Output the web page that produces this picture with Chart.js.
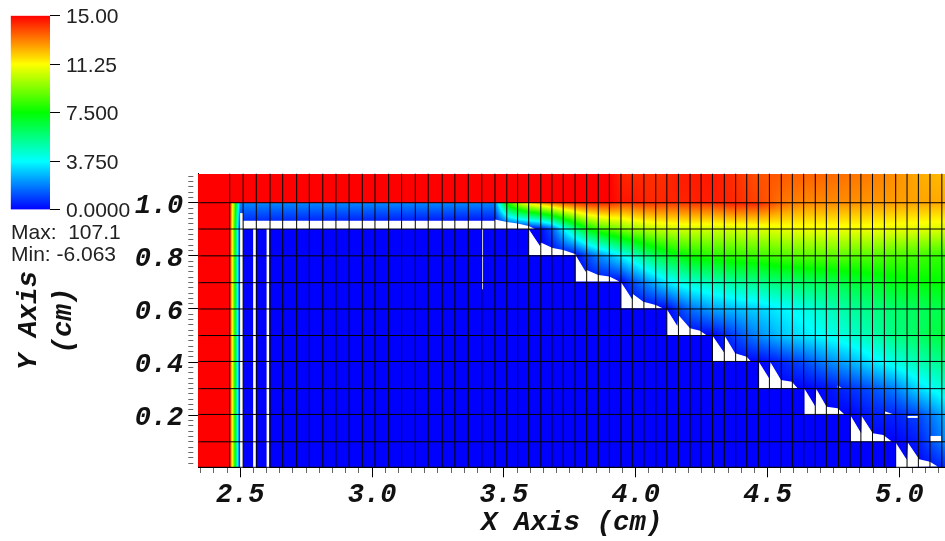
<!DOCTYPE html>
<html>
<head>
<meta charset="utf-8">
<title>Pseudocolor</title>
<script src="https://cdn.jsdelivr.net/npm/chart.js@4/dist/chart.umd.min.js"></script>
<style>
html, body { margin: 0; padding: 0; background: #fff; overflow: hidden; }
canvas { position: absolute; left: 0; top: 0; }
#legendChart { top: -20px; }
.stat { position: absolute; left: 11px; font: 21px "Liberation Sans", sans-serif; color: #222; white-space: pre; line-height: 22px; }
</style>
</head>
<body>
<canvas id="fieldChart" width="945" height="541"></canvas>
<canvas id="legendChart" width="200" height="250"></canvas>
<div class="stat" style="top:221px">Max:  107.1</div>
<div class="stat" style="top:243px">Min: -6.063</div>
<script>
// colour table
const colorStops = [[0, "#0000ff"], [3.75, "#00ffff"], [7.5, "#00ff00"], [11.25, "#ffff00"], [15, "#ff0000"]];
const legendTicks = [0, 3.75, 7.5, 11.25, 15];
const legendLabels = ["0.0000", "3.750", "7.500", "11.25", "15.00"];

// axis ticks
const xMajorTicks = [2.5, 3.0, 3.5, 4.0, 4.5, 5.0];
const yMajorTicks = [0.2, 0.4, 0.6, 0.8, 1.0];

// mesh lines
const meshX = [2.460, 2.511, 2.561, 2.613, 2.661, 2.714, 2.762, 2.813, 2.863, 2.913, 2.963, 3.011, 3.063, 3.112,
    3.164, 3.213, 3.266, 3.314, 3.365, 3.416, 3.466, 3.511, 3.552, 3.594, 3.640, 3.682, 3.725, 3.770, 3.814,
    3.858, 3.900, 3.944, 3.987, 4.031, 4.076, 4.118, 4.162, 4.206, 4.248, 4.291, 4.336, 4.379, 4.421, 4.465,
    4.507, 4.552, 4.594, 4.637, 4.681, 4.723, 4.769, 4.813, 4.854, 4.898, 4.943, 4.986, 5.029, 5.072, 5.116, 5.161];
const meshY = [0.004, 0.100, 0.203, 0.300, 0.4025, 0.500, 0.600, 0.699, 0.800, 0.901, 1.000];

// nodal values, one row per fieldY
const fieldX = [2.341, 2.460, 2.4995, 3.466, 3.511, 3.552, 3.594, 3.640, 3.682, 3.725, 3.770, 3.814, 3.858, 3.900,
    3.944, 3.987, 4.031, 4.076, 4.118, 4.162, 4.206, 4.291, 4.379, 4.465, 4.552, 4.637, 4.723, 4.813, 4.898, 4.986, 5.072, 5.173];
const fieldY = [1.11, 1.0005, 1.0, 0.9, 0.8, 0.7, 0.6, 0.5, 0.4, 0.3, 0.2, 0.1, 0.004];
const fieldValues = [
    [15.5,15.5,15.5,15.5,15.5,15.5,15.5,15.5,15.5,15.5,15.5,15.5,15.5,15,14.5,14.4,14.4,14.3,14.4,14.6,14.6,14.7,14.3,13.8,13.7,13.6,13.5,13.3,13.2,12.9,12.5,12.2],
    [15.5,15.5,15.5,15.5,15.5,15.5,15.5,15.5,15.5,15.5,15.5,15.5,15.5,15,14.7,14.7,14.5,14.4,14.5,14.5,14.5,14.6,14.4,14,13.3,13,13,12.9,12.8,12.7,12.6,12.5],
    [20,15,2,2,8,10.3,11.7,12.6,13.3,13.8,14.2,14.5,14.5,14.4,14,14.1,14.2,14.2,14.2,14.2,14.2,14.3,14.6,14.5,13.5,13,13,12.9,12.8,12.7,12.6,12.5],
    [20,15,0,-0.5,-0.5,-0.5,-0.3,0.1,1.2,3.5,5.5,7.2,8.2,8.8,9.3,9.7,10,10.3,10.4,10.5,10.6,10.5,10.6,10.7,10.9,11,11,11,11,10.9,10.8,10.7],
    [20,15,0,-0.3,-0.3,-0.3,-0.3,0,0,0,0,1,2,2.7,3.6,4.5,5.4,6.2,6.8,7.3,7.7,8,8.2,8.3,8.6,8.8,8.8,8.8,8.7,8.6,8.4,8.2],
    [20,15,0,0,0,0,0,0,0,0,0,0,0,0,0,1,1.9,2.7,3.4,4,4.4,4.8,5.2,5.5,5.8,6,6.3,6.6,6.9,7.2,7.4,7.5],
    [20,15,0,0,0,0,0,0,0,0,0,0,0,0,0,0,0,0,0,0.8,1.6,2.4,2.8,3.1,3.6,4.1,4.7,5.2,5.6,5.9,6.2,6.4],
    [20,15,0,0,0,0,0,0,0,0,0,0,0,0,0,0,0,0,0,0,0,0,1,2,2.9,3.4,3.9,4.4,5,5.6,6.1,6.7],
    [20,15,0,0,0,0,0,0,0,0,0,0,0,0,0,0,0,0,0,0,0,0,0,0,0.5,1.1,1.9,2.6,3.4,4.2,4.9,5.5],
    [20,15,0,0,0,0,0,0,0,0,0,0,0,0,0,0,0,0,0,0,0,0,0,0,0,0,0.2,0.7,1.2,1.9,3.2,4.4],
    [20,15,0,0,0,0,0,0,0,0,0,0,0,0,0,0,0,0,0,0,0,0,0,0,0,0,0,0,0.4,0.5,1,2.6],
    [20,15,0,0,0,0,0,0,0,0,0,0,0,0,0,0,0,0,0,0,0,0,0,0,0,0,0,0,0,0,0.4,2],
    [20,15,0,0,0,0,0,0,0,0,0,0,0,0,0,0,0,0,0,0,0,0,0,0,0,0,0,0,0,0,0,0.6]
];

// white holes in the field, x/y pairs in axis units
const voidShapes = [
    [[2.4995,0.961],[2.511,0.961],[2.511,0.004],[2.4995,0.004]],
    [[2.549,0.901],[2.560,0.901],[2.560,0.004],[2.549,0.004]],
    [[2.600,0.901],[2.610,0.901],[2.610,0.004],[2.600,0.004]],
    [[3.416,0.901],[3.421,0.901],[3.421,0.674],[3.416,0.674]],
    [[2.511,0.901],[2.511,0.932],[3.466,0.932],[3.466,0.937],[3.511,0.927],[3.552,0.922],[3.594,0.912],[3.618,0.901]],
    [[3.594,0.901],[3.637,0.837],[3.640,0.850],[3.685,0.830],[3.725,0.822],[3.770,0.807],[3.776,0.803],[3.594,0.803]],
    [[3.772,0.803],[3.810,0.740],[3.814,0.747],[3.858,0.728],[3.900,0.722],[3.938,0.703],[3.772,0.703]],
    [[3.944,0.702],[3.987,0.636],[3.989,0.656],[4.029,0.627],[4.076,0.615],[4.102,0.603],[3.944,0.603]],
    [[4.118,0.599],[4.158,0.536],[4.162,0.577],[4.206,0.527],[4.244,0.518],[4.267,0.502],[4.118,0.502]],
    [[4.292,0.498],[4.335,0.436],[4.339,0.496],[4.377,0.433],[4.421,0.420],[4.437,0.402],[4.292,0.402]],
    [[4.468,0.399],[4.507,0.337],[4.511,0.399],[4.551,0.333],[4.592,0.326],[4.614,0.302],[4.468,0.302]],
    [[4.640,0.300],[4.680,0.235],[4.685,0.299],[4.724,0.232],[4.766,0.226],[4.794,0.201],[4.640,0.201]],
    [[4.816,0.197],[4.855,0.132],[4.857,0.197],[4.899,0.132],[4.939,0.126],[4.971,0.101],[4.816,0.101]],
    [[4.986,0.097],[5.028,0.032],[5.032,0.097],[5.075,0.034],[5.116,0.025],[5.145,0.007],[4.986,0.004]],
    [[4.766,0.312],[4.781,0.303],[4.766,0.303]],
    [[4.946,0.214],[4.985,0.201],[4.946,0.201]],
    [[5.029,0.197],[5.070,0.197],[5.070,0.190],[5.029,0.190]],
    [[5.116,0.122],[5.160,0.122],[5.160,0.101],[5.116,0.101]]
];

function hexRgb(hex) {
    return [1, 3, 5].map(i => parseInt(hex.slice(i, i + 2), 16));
}

const stopRgb = colorStops.map(s => hexRgb(s[1]));

function colorFor(v) {
    if (v <= 0) return stopRgb[0];
    if (v >= 15) return stopRgb[4];
    let i = 0;
    while (v > colorStops[i + 1][0]) i++;
    const t = (v - colorStops[i][0]) / (colorStops[i + 1][0] - colorStops[i][0]);
    return stopRgb[i].map((c, k) => c + (stopRgb[i + 1][k] - c) * t);
}

function fieldAt(x, y) {
    let c = 0;
    while (c < fieldX.length - 2 && x > fieldX[c + 1]) c++;
    let r = 0;
    while (r < fieldY.length - 2 && y < fieldY[r + 1]) r++;
    const tx = Math.min(1, Math.max(0, (x - fieldX[c]) / (fieldX[c + 1] - fieldX[c])));
    const ty = Math.min(1, Math.max(0, (fieldY[r] - y) / (fieldY[r] - fieldY[r + 1])));
    const top = fieldValues[r][c] * (1 - tx) + fieldValues[r][c + 1] * tx;
    const bot = fieldValues[r + 1][c] * (1 - tx) + fieldValues[r + 1][c + 1] * tx;
    return top * (1 - ty) + bot * ty;
}

const fieldPlugin = {
    id: "fieldPlugin",
    beforeDatasetsDraw(chart) {
        const { ctx, chartArea: a, scales } = chart;
        const left = Math.round(a.left);
        const top = Math.round(a.top);
        const w = Math.round(a.right) - left;
        const h = Math.round(a.bottom) - top;
        const img = ctx.createImageData(w, h);
        for (let py = 0; py < h; py++) {
            const yv = scales.y.getValueForPixel(top + py + 0.5);
            for (let px = 0; px < w; px++) {
                const xv = scales.x.getValueForPixel(left + px + 0.5);
                const rgb = colorFor(fieldAt(xv, yv));
                const o = (py * w + px) * 4;
                img.data[o] = rgb[0];
                img.data[o + 1] = rgb[1];
                img.data[o + 2] = rgb[2];
                img.data[o + 3] = 255;
            }
        }
        ctx.putImageData(img, left, top);

        ctx.save();
        ctx.fillStyle = "#ffffff";
        voidShapes.forEach(shape => {
            ctx.beginPath();
            shape.forEach((p, i) => {
                const px = scales.x.getPixelForValue(p[0]);
                const py = scales.y.getPixelForValue(p[1]);
                if (i === 0) ctx.moveTo(px, py);
                else ctx.lineTo(px, py);
            });
            ctx.closePath();
            ctx.fill();
        });
        ctx.restore();
    }
};

// mesh as one broken line
const meshPoints = [];
meshX.forEach(x => {
    meshPoints.push({ x: x, y: 0.004 }, { x: x, y: 1.11 }, { x: NaN, y: NaN });
});
meshY.forEach(y => {
    meshPoints.push({ x: 2.341, y: y }, { x: 5.173, y: y }, { x: NaN, y: NaN });
});

function buildTicks(majors, from, to, step) {
    const ticks = [];
    const n = Math.round((to - from) / step);
    for (let i = 0; i <= n; i++) {
        const value = +(from + i * step).toFixed(3);
        ticks.push({ value: value, major: majors.includes(value) });
    }
    return ticks;
}

const axisFont = { family: "'Liberation Mono', monospace", size: 27, weight: "bold", style: "italic" };
const titleFont = { family: "'Liberation Mono', monospace", size: 27.5, weight: "bold", style: "italic", lineHeight: 1.27 };

function axisGrid() {
    return {
        drawOnChartArea: false,
        drawTicks: true,
        tickLength: 10,
        tickWidth: 1,
        tickColor: ctx => (ctx.tick && ctx.tick.major ? "#000000" : "#666666"),
        tickBorderDash: ctx => (ctx.tick && ctx.tick.major ? [] : [5, 100])
    };
}

new Chart(document.getElementById("fieldChart"), {
    type: "scatter",
    data: {
        datasets: [{
            label: "mesh",
            data: meshPoints,
            showLine: true,
            spanGaps: false,
            borderColor: "#000000",
            borderWidth: 1,
            pointRadius: 0
        }]
    },
    options: {
        responsive: false,
        animation: false,
        layout: { padding: { top: 173.5, left: 0, right: 0, bottom: 0 } },
        plugins: { legend: { display: false }, tooltip: { enabled: false } },
        scales: {
            x: {
                type: "linear",
                min: 2.341,
                max: 5.173,
                afterBuildTicks: s => { s.ticks = buildTicks(xMajorTicks, 2.35, 5.15, 0.05); },
                afterFit: s => { s.height = 73.7; },
                border: { color: "#000000" },
                grid: axisGrid(),
                ticks: {
                    autoSkip: false,
                    maxRotation: 0,
                    padding: 2,
                    color: "#111111",
                    font: axisFont,
                    callback: v => (xMajorTicks.includes(+v.toFixed(3)) ? v.toFixed(1) : "")
                },
                title: { display: true, text: "X Axis (cm)", color: "#111111", font: titleFont, padding: { top: 0, bottom: 0 } }
            },
            y: {
                type: "linear",
                min: 0.004,
                max: 1.11,
                afterBuildTicks: s => { s.ticks = buildTicks(yMajorTicks, 0.02, 1.10, 0.02); },
                afterFit: s => { s.width = 198.3; },
                border: { color: "#000000" },
                grid: axisGrid(),
                ticks: {
                    autoSkip: false,
                    padding: 5,
                    labelOffset: 3,
                    color: "#111111",
                    font: axisFont,
                    callback: v => (yMajorTicks.includes(+v.toFixed(3)) ? v.toFixed(1) : "")
                },
                title: { display: true, text: ["Y Axis", "(cm)"], color: "#111111", font: titleFont, padding: { top: 12, bottom: 0 } }
            }
        }
    },
    plugins: [fieldPlugin]
});

// colour bar
new Chart(document.getElementById("legendChart"), {
    type: "bar",
    data: {
        labels: ["value"],
        datasets: [{
            data: [[legendTicks[0], legendTicks[4]]],
            barPercentage: 1,
            categoryPercentage: 1,
            backgroundColor: ctx => {
                const a = ctx.chart.chartArea;
                if (!a) return "#0000ff";
                const g = ctx.chart.ctx.createLinearGradient(0, a.bottom, 0, a.top);
                colorStops.forEach(s => g.addColorStop(s[0] / 15, s[1]));
                return g;
            }
        }]
    },
    options: {
        responsive: false,
        animation: false,
        layout: { padding: { top: 35.7, left: 10.7, right: 0, bottom: 20.3 } },
        plugins: { legend: { display: false }, tooltip: { enabled: false } },
        scales: {
            x: { display: false },
            y: {
                position: "right",
                min: 0,
                max: 15,
                afterBuildTicks: s => { s.ticks = legendTicks.map(v => ({ value: v })); },
                afterFit: s => { s.width = 150; },
                border: { display: false },
                grid: { drawOnChartArea: false, drawTicks: true, tickLength: 10, tickColor: "#000000" },
                ticks: {
                    autoSkip: false,
                    padding: 6,
                    labelOffset: 2,
                    color: "#222222",
                    font: { family: "'Liberation Sans', sans-serif", size: 21 },
                    callback: v => legendLabels[legendTicks.indexOf(v)]
                }
            }
        }
    }
});
</script>
</body>
</html>
